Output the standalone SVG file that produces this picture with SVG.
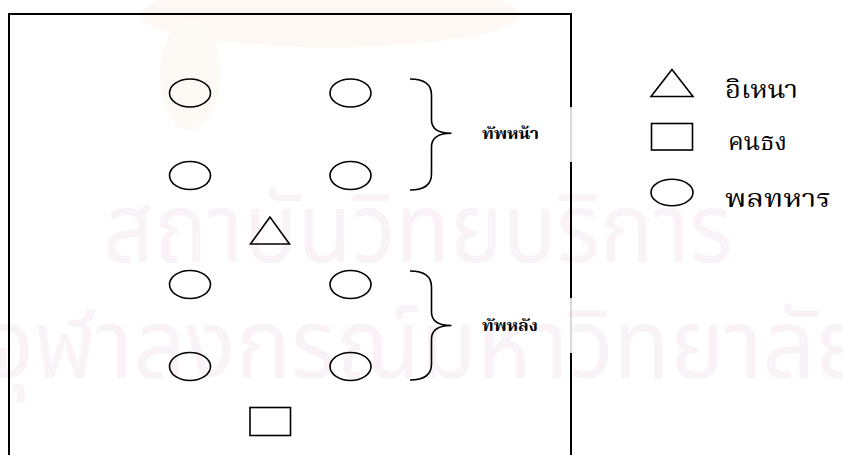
<svg xmlns="http://www.w3.org/2000/svg" width="843" height="455" viewBox="0 0 843 455">
<style>
.shape{fill:none;stroke:#000;stroke-width:1.6}
.frame{fill:none;stroke:#000;stroke-width:2}
.gap{fill:none;stroke:#b0b0b0;stroke-width:1}
.wm{fill:#f9f2f6;font-family:"Noto Sans Thai","Noto Sans","DejaVu Sans",sans-serif;font-size:96px}
.lbl{font-family:"Liberation Serif","Noto Serif Thai","Noto Sans Thai",serif;font-weight:bold;font-size:15px;fill:#000}
.leg{font-family:"Liberation Serif","Noto Serif Thai","Noto Sans Thai",serif;font-size:24px;fill:#000}
</style>
<rect width="843" height="455" fill="#fff"/>
<g id="watermark">
<ellipse cx="330" cy="15" rx="190" ry="32" fill="#fdf8f4"/>
<ellipse cx="190" cy="75" rx="30" ry="55" fill="#fdf9f5"/>
<text class="wm" x="103" y="262" textLength="630" lengthAdjust="spacingAndGlyphs">สถาบันวิทยบริการ</text>
<text class="wm" x="-15" y="378" textLength="885" lengthAdjust="spacingAndGlyphs">จุฬาลงกรณ์มหาวิทยาลัย</text>
</g>
<g id="frame">
<path class="frame" d="M9,455 V14 H571 V107 M571,162 V298 M571,353 V455"/>
<path class="gap" d="M571,107 V162 M571,298 V353"/>
</g>
<g id="soldier-1"><ellipse class="shape" cx="190" cy="93" rx="20.5" ry="14"/></g>
<g id="soldier-2"><ellipse class="shape" cx="350.5" cy="93" rx="20.5" ry="14"/></g>
<g id="soldier-3"><ellipse class="shape" cx="190" cy="175.5" rx="20.5" ry="14"/></g>
<g id="soldier-4"><ellipse class="shape" cx="350.5" cy="175.5" rx="20.5" ry="14"/></g>
<g id="inao"><polygon class="shape" points="270,217 250.5,244 289.5,244"/></g>
<g id="soldier-5"><ellipse class="shape" cx="190" cy="284.5" rx="20.5" ry="14"/></g>
<g id="soldier-6"><ellipse class="shape" cx="350.5" cy="284.5" rx="20.5" ry="14"/></g>
<g id="soldier-7"><ellipse class="shape" cx="190" cy="366.5" rx="20.5" ry="14"/></g>
<g id="soldier-8"><ellipse class="shape" cx="350.5" cy="366.5" rx="20.5" ry="14"/></g>
<g id="flag-bearer"><rect class="shape" x="250" y="407.5" width="40.5" height="28"/></g>
<g id="front-army">
<path class="shape" d="M410,79 Q431.5,79 431.5,95 V120 Q431.5,133.3 451.5,133.3 Q431.5,133.3 431.5,147 V174 Q431.5,190 410,190"/>
<text class="lbl" x="482" y="139" textLength="57" lengthAdjust="spacingAndGlyphs">ทัพหน้า</text>
</g>
<g id="rear-army">
<path class="shape" d="M410,271 Q431.5,271 431.5,287 V312 Q431.5,325.5 451.5,325.5 Q431.5,325.5 431.5,339 V364 Q431.5,380 410,380"/>
<text class="lbl" x="482" y="331" textLength="56" lengthAdjust="spacingAndGlyphs">ทัพหลัง</text>
</g>
<g id="legend-inao">
<polygon class="shape" points="672,69.5 651,96.5 693,96.5"/>
<text class="leg" x="725" y="98" textLength="73" lengthAdjust="spacingAndGlyphs">อิเหนา</text>
</g>
<g id="legend-flag">
<rect class="shape" x="651.5" y="123.5" width="41" height="26.5"/>
<text class="leg" x="728" y="150" textLength="59" lengthAdjust="spacingAndGlyphs">คนธง</text>
</g>
<g id="legend-soldier">
<ellipse class="shape" cx="672" cy="192.5" rx="21" ry="13.3"/>
<text class="leg" x="725" y="207" textLength="106" lengthAdjust="spacingAndGlyphs">พลทหาร</text>
</g>
<g id="connectors"/>
</svg>
